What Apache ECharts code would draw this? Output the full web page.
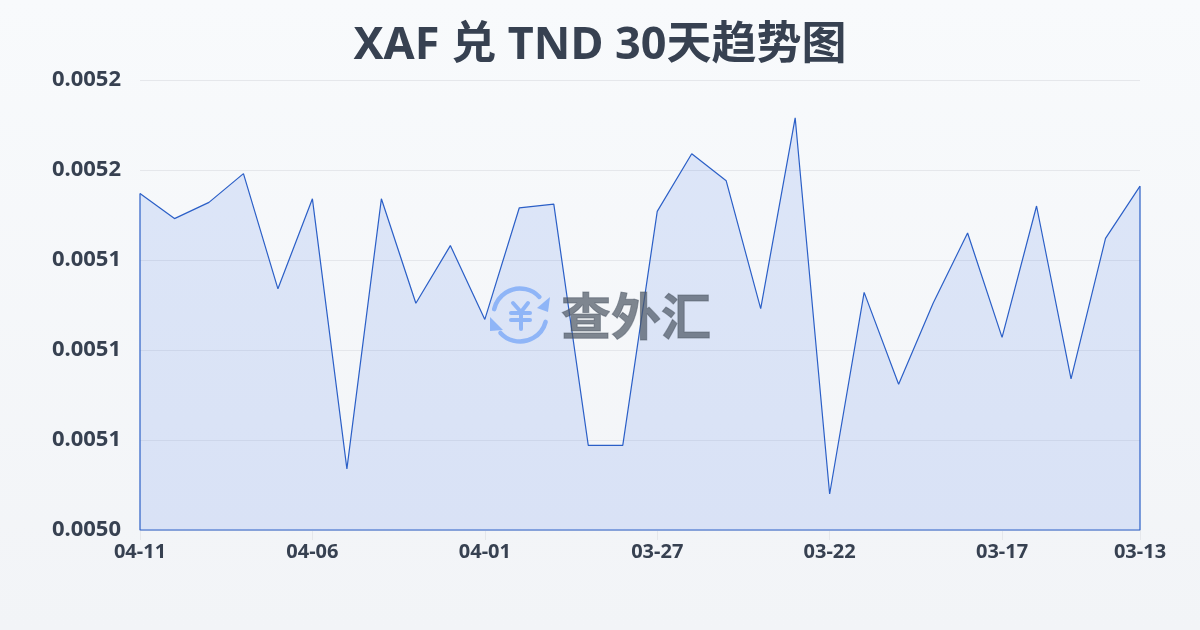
<!DOCTYPE html>
<html>
<head>
<meta charset="utf-8">
<style>
html, body { margin: 0; padding: 0; }
#chart { width: 1200px; height: 630px; }
</style>
<script src="https://cdn.jsdelivr.net/npm/echarts@6/dist/echarts.min.js"></script>
</head>
<body>
<div id="chart"></div>
<script>
var days = ['04-11', '04-10', '04-09', '04-08', '04-07', '04-06', '04-05', '04-04', '04-03', '04-02',
    '04-01', '03-31', '03-30', '03-29', '03-28', '03-27', '03-26', '03-25', '03-24', '03-23',
    '03-22', '03-21', '03-20', '03-19', '03-18', '03-17', '03-16', '03-15', '03-14', '03-13'];
var rates = [0.005187, 0.005173, 0.005182, 0.005198, 0.005134, 0.005184, 0.005034, 0.005184, 0.005126, 0.005158,
    0.005117, 0.005179, 0.005181, 0.005047, 0.005047, 0.005177, 0.005209, 0.005194, 0.005123, 0.005229,
    0.005020, 0.005132, 0.005081, 0.005126, 0.005165, 0.005107, 0.005180, 0.005084, 0.005162, 0.005191];
var shownDays = ['04-11', '04-06', '04-01', '03-27', '03-22', '03-17', '03-13'];
var yTickLabels = ['0.0050', '0.0051', '0.0051', '0.0051', '0.0052', '0.0052'];
var yMin = 0.005;
var yMax = 0.00525;
var yStep = 0.00005;

var a = echarts.init(document.getElementById('chart'));
var lineColor = '#2b5fc7';
var textColor = '#374151';
var logoColor = '#8fb5f7';
var font = '"Noto Sans", "Noto Sans CJK SC", sans-serif';

function logoStroke(shape) {
    return { type: 'polyline', z: 10, shape: { points: shape },
        style: { stroke: logoColor, lineWidth: 4, lineCap: 'round', lineJoin: 'round', fill: null } };
}

var option = {
    backgroundColor: new echarts.graphic.LinearGradient(0, 0, 0, 1, [
        { offset: 0, color: '#f8fafc' },
        { offset: 1, color: '#f2f4f7' }
    ]),
    animation: false,
    title: {
        text: 'XAF 兑 TND 30天趋势图',
        left: 'center',
        top: 19,
        textStyle: { fontFamily: font, fontSize: 45, fontWeight: 'bold', color: textColor }
    },
    grid: { left: 140, right: 60, top: 80, bottom: 100 },
    xAxis: {
        type: 'category',
        boundaryGap: false,
        data: days,
        axisLine: { show: false },
        axisTick: {
            show: true,
            length: 10,
            lineStyle: { color: '#e5e7eb' },
            interval: function (i, name) { return shownDays.indexOf(name) >= 0; }
        },
        axisLabel: {
            color: textColor,
            fontFamily: font,
            fontSize: 20,
            fontWeight: 'bold',
            margin: 12,
            showMinLabel: true,
            showMaxLabel: true,
            interval: function (i, name) { return shownDays.indexOf(name) >= 0; }
        }
    },
    yAxis: {
        type: 'value',
        min: yMin,
        max: yMax,
        interval: yStep,
        axisLine: { show: false },
        axisTick: { show: false },
        axisLabel: {
            color: textColor,
            fontFamily: font,
            fontSize: 22,
            fontWeight: 'bold',
            margin: 19,
            formatter: function (v) {
                return yTickLabels[Math.round((v - yMin) / yStep)];
            }
        },
        splitLine: { show: true, lineStyle: { color: '#e5e7eb', width: 1 } }
    },
    series: [
        {
            type: 'line',
            data: rates,
            symbol: 'none',
            smooth: false,
            clip: false,
            lineStyle: { color: lineColor, width: 1.2 },
            areaStyle: { color: 'rgba(37,99,235,0.18)', origin: 'start' }
        },
        {
            // the outline down both sides and along the bottom of the area
            type: 'line',
            data: [[0, rates[0]], [0, yMin], [days.length - 1, yMin], [days.length - 1, rates[rates.length - 1]]],
            symbol: 'none',
            clip: false,
            lineStyle: { color: lineColor, width: 1.2 }
        }
    ],
    graphic: [
        // logo watermark
        { type: 'arc', z: 10, shape: { cx: 520, cy: 315, r: 26.5, startAngle: -2.92, endAngle: -0.75 },
            style: { stroke: logoColor, lineWidth: 4.5, lineCap: 'round', fill: null } },
        { type: 'arc', z: 10, shape: { cx: 520, cy: 315, r: 26.5, startAngle: 0.26, endAngle: 2.4 },
            style: { stroke: logoColor, lineWidth: 4.5, lineCap: 'round', fill: null } },
        { type: 'polygon', z: 10, shape: { points: [[537, 308], [550, 297], [548, 312]] },
            style: { fill: logoColor } },
        { type: 'polygon', z: 10, shape: { points: [[490, 317], [503, 330], [490, 331]] },
            style: { fill: logoColor } },
        logoStroke([[513, 303], [521, 312], [528, 303]]),
        logoStroke([[521, 312], [521, 329]]),
        logoStroke([[511, 313], [530, 313]]),
        logoStroke([[511, 320], [530, 320]]),
        { type: 'text', z: 10, x: 561, y: 316,
            style: { text: '查外汇', font: 'bold 50px "Noto Sans CJK SC", sans-serif', fill: 'rgba(75,85,99,0.7)', stroke: 'rgba(75,85,99,0.5)', lineWidth: 1, align: 'left', verticalAlign: 'middle' } }
    ]
};
a.setOption(option);
window.addEventListener('resize', function () {
    a.resize();
});
</script>
</body>
</html>
